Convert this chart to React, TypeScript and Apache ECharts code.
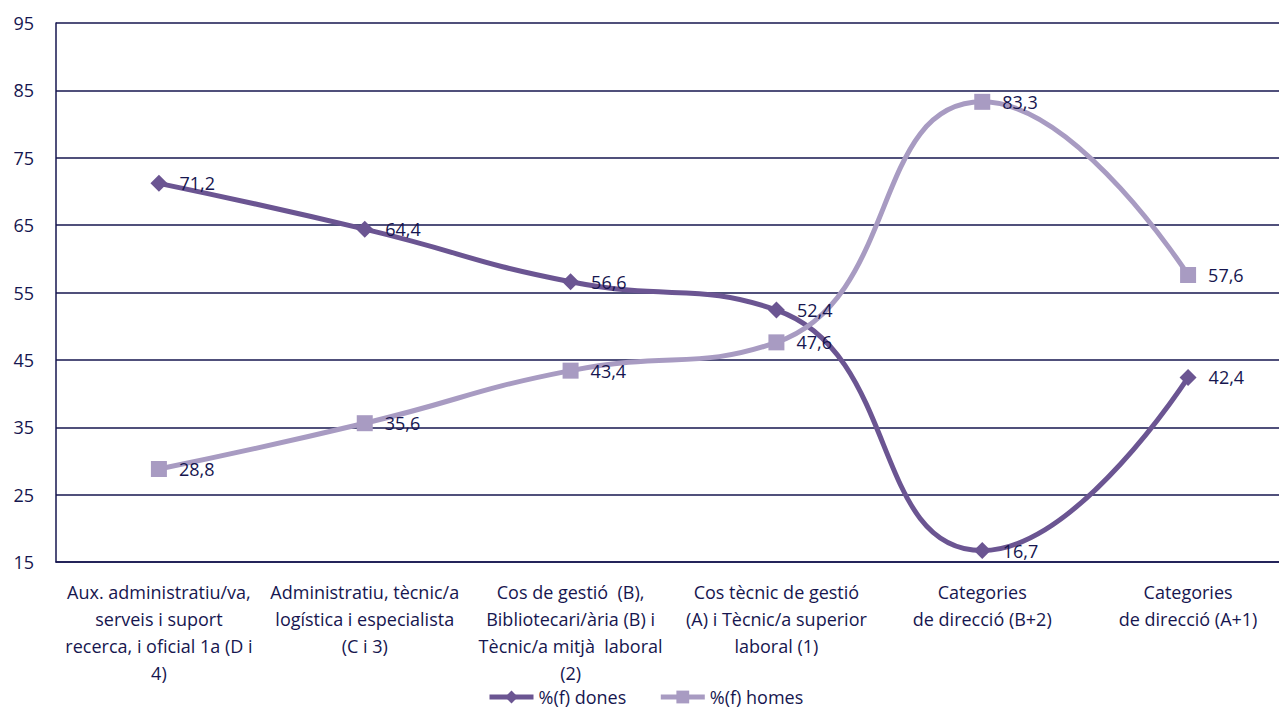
import React, { useEffect, useRef } from "react";
import * as echarts from "echarts";

const categories = [
  "Aux. administratiu/va,\nserveis i suport\nrecerca, i oficial 1a (D i\n4)",
  "Administratiu, tècnic/a\nlogística i especialista\n(C i 3)",
  "Cos de gestió  (B),\nBibliotecari/ària (B) i\nTècnic/a mitjà  laboral\n(2)",
  "Cos tècnic de gestió\n(A) i Tècnic/a superior\nlaboral (1)",
  "Categories\nde direcció (B+2)",
  "Categories\nde direcció (A+1)",
];
const dones = [71.2, 64.4, 56.6, 52.4, 16.7, 42.4];
const homes = [28.8, 35.6, 43.4, 47.6, 83.3, 57.6];
const seriesNames = ["%(f) dones", "%(f) homes"];

const NAVY = "#16164f";
const FONT = "'Open Sans', 'Noto Sans', sans-serif";
const DARK = "#6b5592";
const LIGHT = "#a89bc2";

export default function App() {
  const ref = useRef<HTMLDivElement>(null);
  useEffect(() => {
    if (!ref.current) return;
    const chart = echarts.init(ref.current, null, { renderer: "svg" });
    const label = {
      show: true,
      position: "right" as const,
      distance: 12,
      color: NAVY,
      fontSize: 18,
      fontFamily: FONT,
      formatter: (p: any) => String(p.value).replace(".", ","),
    };
    chart.setOption({
      animation: false,
      textStyle: { fontFamily: FONT },
      grid: { left: 56, right: 0, top: 23, bottom: 149 },
      legend: {
        left: 482,
        bottom: 0,
        itemWidth: 44,
        itemHeight: 16,
        itemGap: 32,
        lineStyle: { width: 5 },
        textStyle: { color: NAVY, fontSize: 18, fontFamily: FONT },
        data: seriesNames,
      },
      xAxis: {
        type: "category",
        data: categories,
        boundaryGap: true,
        axisLine: { lineStyle: { color: NAVY, width: 1.5 } },
        axisTick: { show: false },
        axisLabel: {
          interval: 0,
          color: NAVY,
          fontSize: 18,
          lineHeight: 27,
          margin: 16,
          fontFamily: FONT,
          align: "center",
        },
      },
      yAxis: {
        type: "value",
        min: 15,
        max: 95,
        interval: 10,
        axisLine: { show: true, lineStyle: { color: NAVY, width: 1.5 } },
        axisTick: { show: false },
        splitLine: { lineStyle: { color: NAVY, width: 1.5 } },
        axisLabel: { color: NAVY, fontSize: 18, margin: 22, fontFamily: FONT },
      },
      series: [
        {
          name: seriesNames[0],
          type: "line",
          data: dones,
          smooth: 0.5,
          symbol: "diamond",
          symbolSize: 17,
          lineStyle: { color: DARK, width: 5 },
          itemStyle: { color: DARK },
          label,
        },
        {
          name: seriesNames[1],
          type: "line",
          data: homes,
          smooth: 0.5,
          symbol: "rect",
          symbolSize: 16,
          lineStyle: { color: LIGHT, width: 5 },
          itemStyle: { color: LIGHT },
          label,
        },
      ],
    });
    return () => chart.dispose();
  }, []);
  return (
    <div
      style={{
        position: "fixed",
        left: 0,
        top: 0,
        width: 1279,
        height: 711,
        overflow: "hidden",
        background: "#fff",
      }}
    >
      <div ref={ref} style={{ width: 1291, height: 711 }} />
    </div>
  );
}
